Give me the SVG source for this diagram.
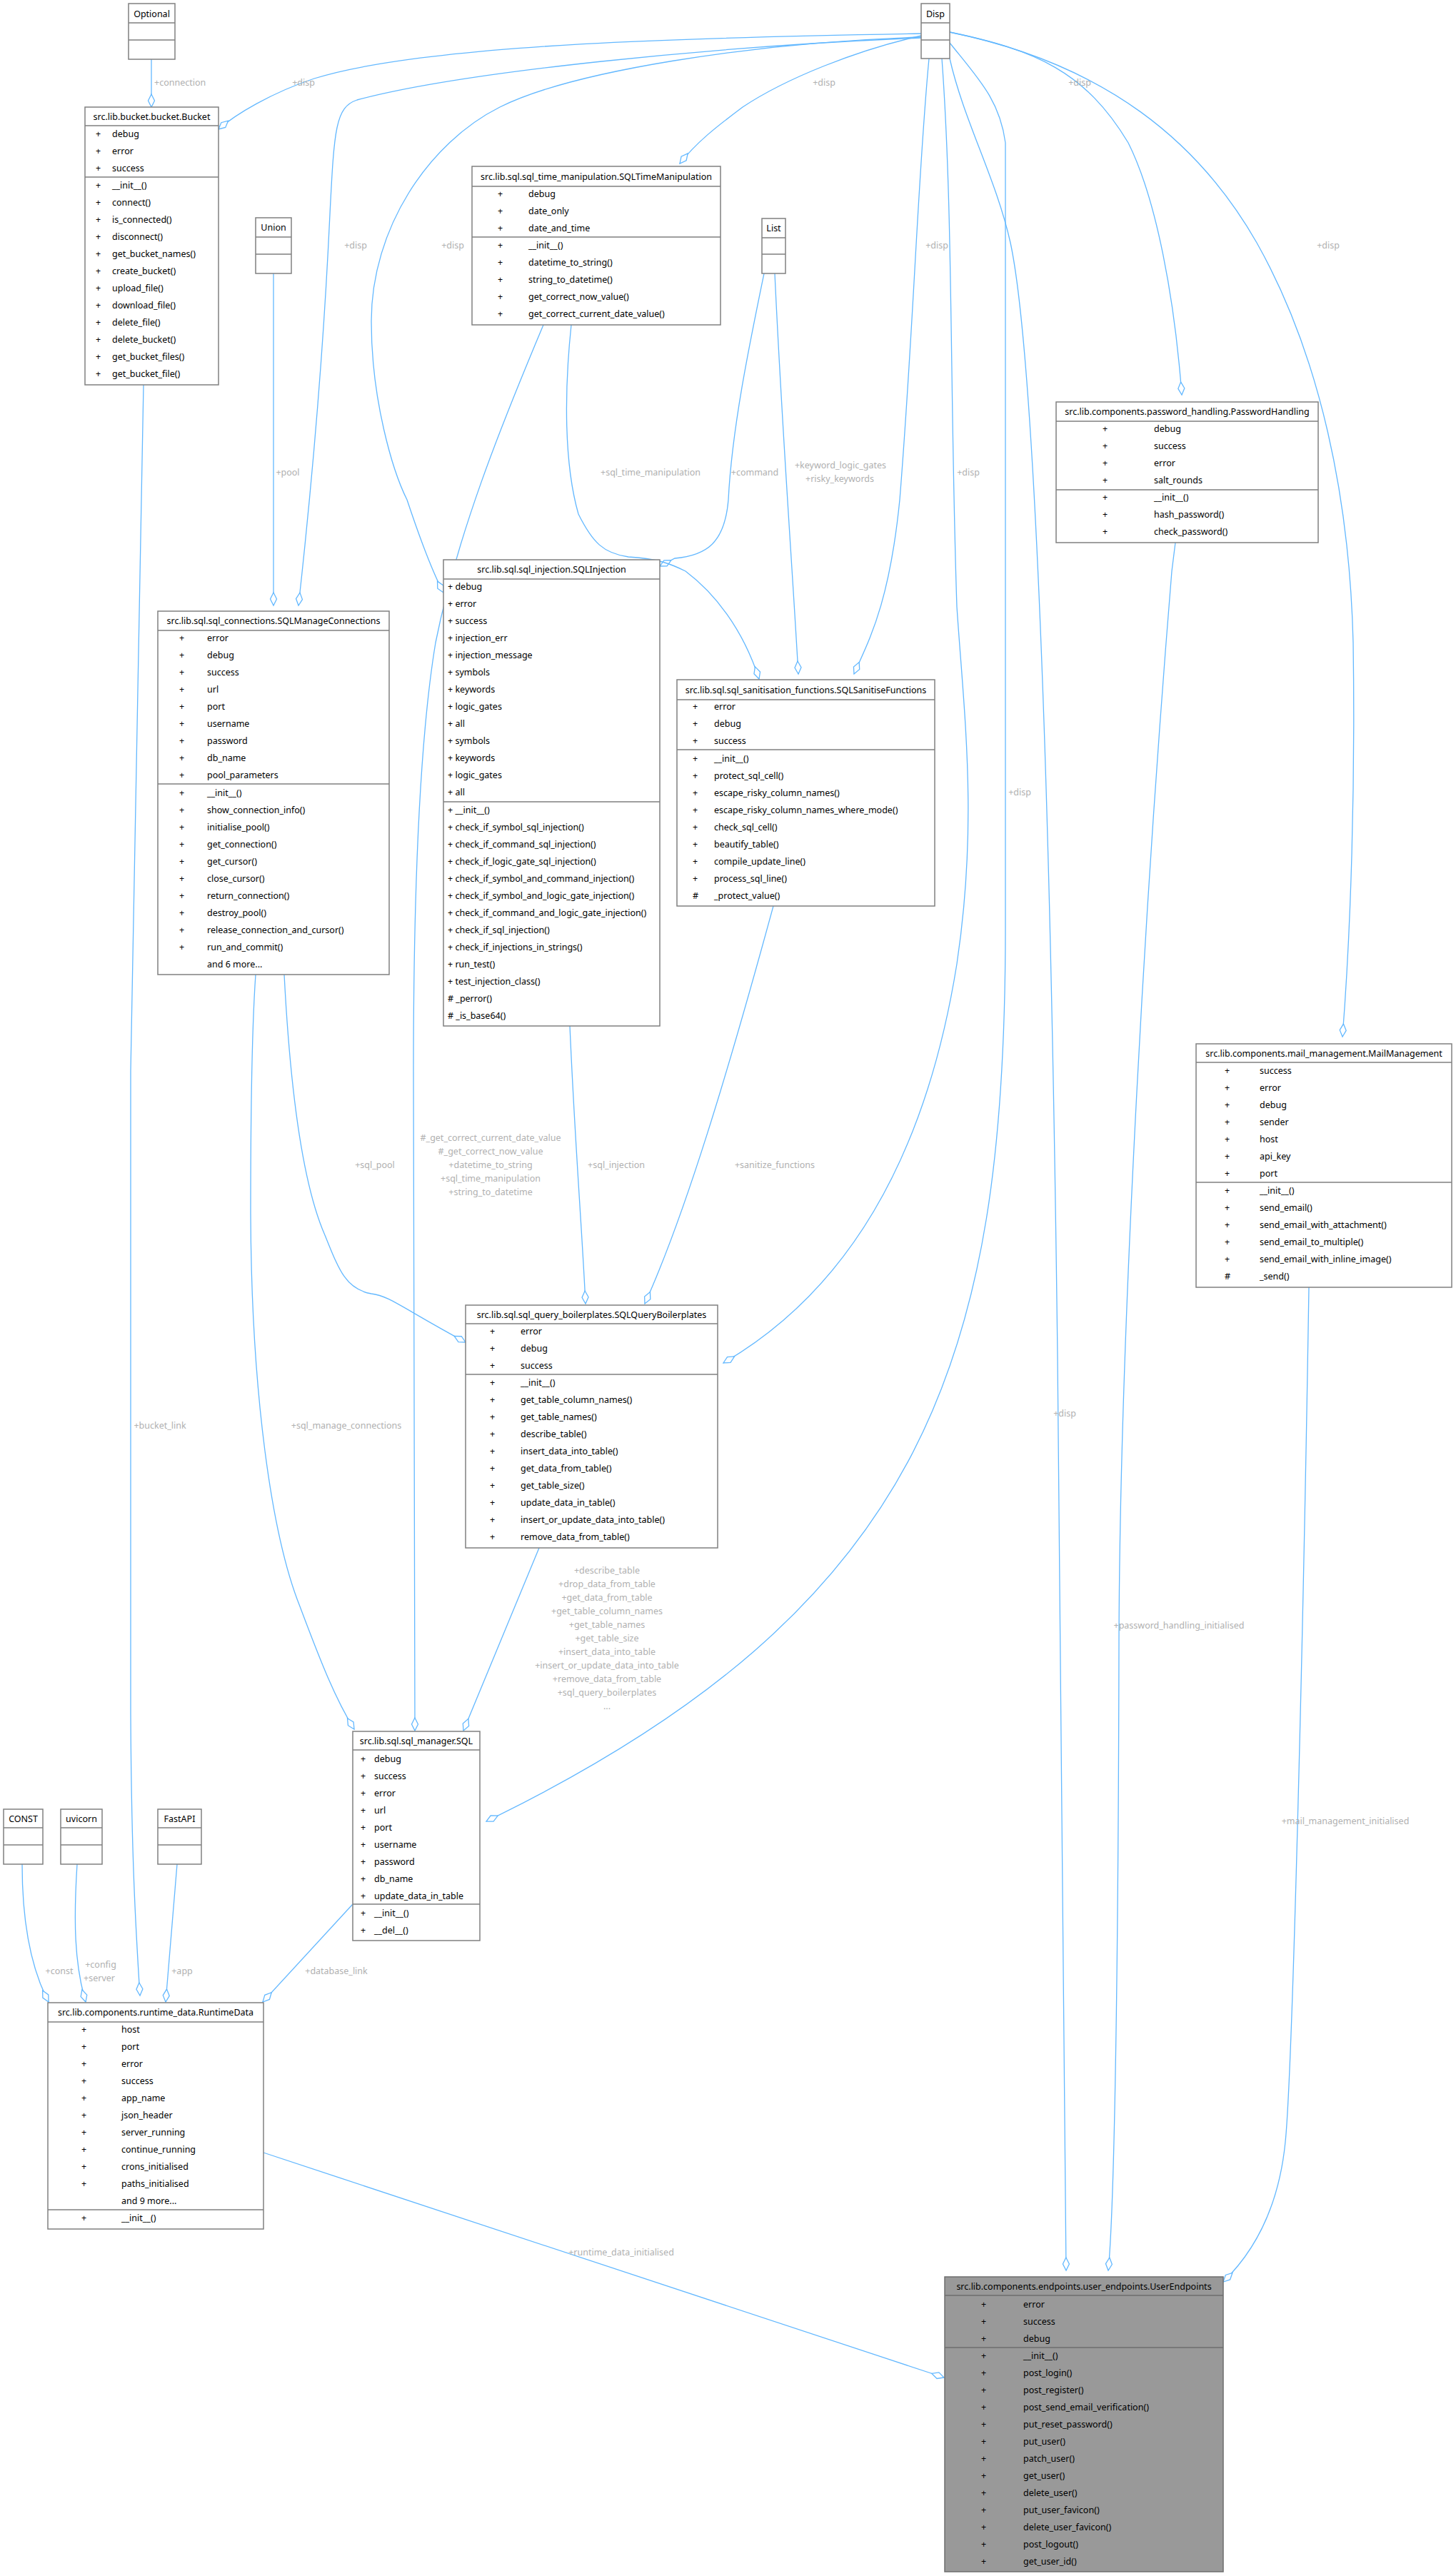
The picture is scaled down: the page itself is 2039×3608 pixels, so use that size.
<svg xmlns="http://www.w3.org/2000/svg" width="2039" height="3608" viewBox="0 0 2039 3608">
<style>
text{font-family:"Noto Sans","DejaVu Sans",sans-serif;font-size:12.5px;fill:#000;dominant-baseline:central}
.c{text-anchor:middle}
.l{fill:#b0b0b0;text-anchor:middle}
.box{fill:#fff;stroke:#808080;stroke-width:1.5}
.ue{fill:#999;stroke:#6e6e6e;stroke-width:1.5}
.dv{stroke:#808080;stroke-width:1.5}
.e{fill:none;stroke:#63b8ff;stroke-width:1.3;marker-end:url(#dia)}
</style>
<defs>
<marker id="dia" markerUnits="userSpaceOnUse" markerWidth="20" markerHeight="12" refX="18.5" refY="5.5" orient="auto" overflow="visible">
<path d="M0.5,5.5 L9.5,1 L18.5,5.5 L9.5,10 Z" fill="#fff" stroke="#63b8ff" stroke-width="1.3"/>
</marker>
</defs>
<rect width="2039" height="3608" fill="#fff"/>
<g id="connectors">
<path class="e" d="M212,83 L212,150"/>
<path class="e" d="M1290,47 C1000,52 600,60 440,110 C380,130 330,160 306,181"/>
<path class="e" d="M1290,53 C1000,65 650,100 500,140 C470,150 468,180 462,300 C455,450 440,650 418,848"/>
<path class="e" d="M1290,52 C1050,60 800,100 700,150 C600,200 520,320 520,450 C520,560 550,660 570,700 C590,760 605,800 621,830"/>
<path class="e" d="M1290,50 C1200,70 1100,110 1040,150 C1000,180 975,200 952,229"/>
<path class="e" d="M1070,383 C1050,480 1025,600 1020,700 C1015,760 990,778 945,782 L924,793"/>
<path class="e" d="M1085,383 C1095,600 1110,800 1118,944"/>
<path class="e" d="M1301,82 C1285,250 1280,450 1260,700 C1245,850 1215,900 1196,944"/>
<path class="e" d="M1319,82 C1335,300 1330,550 1340,850 C1350,1000 1370,1150 1340,1350 C1300,1600 1200,1800 1013,1909"/>
<path class="e" d="M1330,60 C1370,110 1400,140 1408,200 L1408,1300 C1408,1900 1300,2250 681,2551"/>
<path class="e" d="M1330,82 C1350,170 1395,250 1415,340 C1445,480 1470,1000 1481,1900 L1493,3180"/>
<path class="e" d="M1646,760 L1641,800 C1600,1300 1568,1900 1567,2300 C1566,2800 1560,3100 1552,3180"/>
<path class="e" d="M1330,45 C1450,70 1520,100 1580,200 C1620,280 1645,420 1655,553"/>
<path class="e" d="M1330,45 C1550,90 1680,200 1760,340 C1850,500 1890,700 1895,900 C1898,1100 1892,1300 1880,1452"/>
<path class="e" d="M1833,1803 C1825,2300 1810,2900 1800,3000 C1790,3100 1750,3160 1713,3196"/>
<path class="e" d="M383,383 L383,848"/>
<path class="e" d="M201,539 L183,1500 L183,2400 C184,2600 190,2700 196,2795"/>
<path class="e" d="M398,1365 C405,1500 420,1650 455,1730 C475,1780 485,1806 520,1812 C545,1815 560,1830 652,1880"/>
<path class="e" d="M358,1365 C352,1450 351,1600 351,1700 C352,1950 380,2150 420,2250 C450,2330 470,2380 496,2422"/>
<path class="e" d="M798,1437 C805,1600 815,1720 820,1826"/>
<path class="e" d="M1083,1269 C1020,1500 960,1700 903,1826"/>
<path class="e" d="M755,2168 L649,2424"/>
<path class="e" d="M31,2611 C31,2700 45,2760 68,2804"/>
<path class="e" d="M108,2611 C103,2690 104,2750 120,2804"/>
<path class="e" d="M248,2611 L232,2804"/>
<path class="e" d="M494,2667 L368,2804"/>
<path class="e" d="M369,3015 L1322,3330"/>
<path class="e" d="M761,455 C700,600 640,750 610,900 C585,1050 579,1300 579,1500 L581,2424"/>
<path class="e" d="M800,455 C790,550 790,650 810,720 C830,760 845,775 880,780 C920,782 940,790 960,800 C1000,830 1040,880 1063,951"/>
<text class="l" x="216" y="115" style="text-anchor:start">+connection</text>
<text class="l" x="425" y="115">+disp</text>
<text class="l" x="498" y="343">+disp</text>
<text class="l" x="634" y="343">+disp</text>
<text class="l" x="1154" y="115">+disp</text>
<text class="l" x="403" y="661">+pool</text>
<text class="l" x="911" y="661">+sql_time_manipulation</text>
<text class="l" x="1057" y="661">+command</text>
<text class="l" x="1177" y="651">+keyword_logic_gates</text>
<text class="l" x="1176" y="670">+risky_keywords</text>
<text class="l" x="1312" y="343">+disp</text>
<text class="l" x="1356" y="661">+disp</text>
<text class="l" x="1512" y="115">+disp</text>
<text class="l" x="1860" y="343">+disp</text>
<text class="l" x="1428" y="1109">+disp</text>
<text class="l" x="1491" y="1979">+disp</text>
<text class="l" x="1651" y="2276">+password_handling_initialised</text>
<text class="l" x="1884" y="2550">+mail_management_initialised</text>
<text class="l" x="525" y="1631">+sql_pool</text>
<text class="l" x="863" y="1631">+sql_injection</text>
<text class="l" x="1085" y="1631">+sanitize_functions</text>
<text class="l" x="687" y="1593">#_get_correct_current_date_value</text>
<text class="l" x="687" y="1612">#_get_correct_now_value</text>
<text class="l" x="687" y="1631">+datetime_to_string</text>
<text class="l" x="687" y="1650">+sql_time_manipulation</text>
<text class="l" x="687" y="1669">+string_to_datetime</text>
<text class="l" x="224" y="1996">+bucket_link</text>
<text class="l" x="485" y="1996">+sql_manage_connections</text>
<text class="l" x="850" y="2199">+describe_table</text>
<text class="l" x="850" y="2218">+drop_data_from_table</text>
<text class="l" x="850" y="2237">+get_data_from_table</text>
<text class="l" x="850" y="2256">+get_table_column_names</text>
<text class="l" x="850" y="2275">+get_table_names</text>
<text class="l" x="850" y="2294">+get_table_size</text>
<text class="l" x="850" y="2313">+insert_data_into_table</text>
<text class="l" x="850" y="2332">+insert_or_update_data_into_table</text>
<text class="l" x="850" y="2351">+remove_data_from_table</text>
<text class="l" x="850" y="2370">+sql_query_boilerplates</text>
<text class="l" x="850" y="2389">...</text>
<text class="l" x="83" y="2760">+const</text>
<text class="l" x="141" y="2751">+config</text>
<text class="l" x="139" y="2770">+server</text>
<text class="l" x="255" y="2760">+app</text>
<text class="l" x="471" y="2760">+database_link</text>
<text class="l" x="870" y="3154">+runtime_data_initialised</text>
</g>
<g id="Optional"><rect class="box" x="180" y="5" width="65" height="78"/><path class="dv" d="M180,32H245M180,56H245"/><text class="c" x="212.5" y="19">Optional</text></g>
<g id="Disp"><rect class="box" x="1290" y="5" width="40" height="77"/><path class="dv" d="M1290,32H1330M1290,56H1330"/><text class="c" x="1310" y="19">Disp</text></g>
<g id="Union"><rect class="box" x="358" y="305" width="50" height="78"/><path class="dv" d="M358,332H408M358,356H408"/><text class="c" x="383" y="318">Union</text></g>
<g id="List"><rect class="box" x="1067" y="306" width="33" height="77"/><path class="dv" d="M1067,333H1100M1067,356H1100"/><text class="c" x="1083.5" y="319">List</text></g>
<g id="CONST"><rect class="box" x="5" y="2534" width="55" height="77"/><path class="dv" d="M5,2560H60M5,2584H60"/><text class="c" x="32.5" y="2547">CONST</text></g>
<g id="uvicorn"><rect class="box" x="85" y="2534" width="58" height="77"/><path class="dv" d="M85,2560H143M85,2584H143"/><text class="c" x="114" y="2547">uvicorn</text></g>
<g id="FastAPI"><rect class="box" x="221" y="2534" width="61" height="77"/><path class="dv" d="M221,2560H282M221,2584H282"/><text class="c" x="251.5" y="2547">FastAPI</text></g>
<g id="Bucket"><rect class="box" x="119" y="150" width="187" height="389"/><path class="dv" d="M119,176H306M119,248H306"/>
<text class="c" x="212.5" y="163">src.lib.bucket.bucket.Bucket</text>
<text x="134" y="187">+</text><text x="157" y="187">debug</text>
<text x="134" y="211">+</text><text x="157" y="211">error</text>
<text x="134" y="235">+</text><text x="157" y="235">success</text>
<text x="134" y="259">+</text><text x="157" y="259">__init__()</text>
<text x="134" y="283">+</text><text x="157" y="283">connect()</text>
<text x="134" y="307">+</text><text x="157" y="307">is_connected()</text>
<text x="134" y="331">+</text><text x="157" y="331">disconnect()</text>
<text x="134" y="355">+</text><text x="157" y="355">get_bucket_names()</text>
<text x="134" y="379">+</text><text x="157" y="379">create_bucket()</text>
<text x="134" y="403">+</text><text x="157" y="403">upload_file()</text>
<text x="134" y="427">+</text><text x="157" y="427">download_file()</text>
<text x="134" y="451">+</text><text x="157" y="451">delete_file()</text>
<text x="134" y="475">+</text><text x="157" y="475">delete_bucket()</text>
<text x="134" y="499">+</text><text x="157" y="499">get_bucket_files()</text>
<text x="134" y="523">+</text><text x="157" y="523">get_bucket_file()</text>
</g>
<g id="SQLTimeManipulation"><rect class="box" x="661" y="233" width="348" height="222"/><path class="dv" d="M661,261H1009M661,332H1009"/>
<text class="c" x="835" y="247">src.lib.sql.sql_time_manipulation.SQLTimeManipulation</text>
<text x="697" y="271">+</text><text x="740" y="271">debug</text>
<text x="697" y="295">+</text><text x="740" y="295">date_only</text>
<text x="697" y="319">+</text><text x="740" y="319">date_and_time</text>
<text x="697" y="343">+</text><text x="740" y="343">__init__()</text>
<text x="697" y="367">+</text><text x="740" y="367">datetime_to_string()</text>
<text x="697" y="391">+</text><text x="740" y="391">string_to_datetime()</text>
<text x="697" y="415">+</text><text x="740" y="415">get_correct_now_value()</text>
<text x="697" y="439">+</text><text x="740" y="439">get_correct_current_date_value()</text>
</g>
<g id="PasswordHandling"><rect class="box" x="1479" y="563" width="367" height="197"/><path class="dv" d="M1479,590H1846M1479,686H1846"/>
<text class="c" x="1662.5" y="576.5">src.lib.components.password_handling.PasswordHandling</text>
<text x="1544" y="600">+</text><text x="1616" y="600">debug</text>
<text x="1544" y="624">+</text><text x="1616" y="624">success</text>
<text x="1544" y="648">+</text><text x="1616" y="648">error</text>
<text x="1544" y="672">+</text><text x="1616" y="672">salt_rounds</text>
<text x="1544" y="696">+</text><text x="1616" y="696">__init__()</text>
<text x="1544" y="720">+</text><text x="1616" y="720">hash_password()</text>
<text x="1544" y="744">+</text><text x="1616" y="744">check_password()</text>
</g>
<g id="SQLInjection"><rect class="box" x="621" y="784" width="303" height="653"/><path class="dv" d="M621,811H924M621,1123H924"/>
<text class="c" x="772.5" y="797.5">src.lib.sql.sql_injection.SQLInjection</text>
<text x="627" y="821">+ debug</text><text x="627" y="845">+ error</text><text x="627" y="869">+ success</text><text x="627" y="893">+ injection_err</text><text x="627" y="917">+ injection_message</text><text x="627" y="941">+ symbols</text><text x="627" y="965">+ keywords</text><text x="627" y="989">+ logic_gates</text><text x="627" y="1013">+ all</text><text x="627" y="1037">+ symbols</text><text x="627" y="1061">+ keywords</text><text x="627" y="1085">+ logic_gates</text><text x="627" y="1109">+ all</text>
<text x="627" y="1134">+ __init__()</text><text x="627" y="1158">+ check_if_symbol_sql_injection()</text><text x="627" y="1182">+ check_if_command_sql_injection()</text><text x="627" y="1206">+ check_if_logic_gate_sql_injection()</text><text x="627" y="1230">+ check_if_symbol_and_command_injection()</text><text x="627" y="1254">+ check_if_symbol_and_logic_gate_injection()</text><text x="627" y="1278">+ check_if_command_and_logic_gate_injection()</text><text x="627" y="1302">+ check_if_sql_injection()</text><text x="627" y="1326">+ check_if_injections_in_strings()</text><text x="627" y="1350">+ run_test()</text><text x="627" y="1374">+ test_injection_class()</text><text x="627" y="1398"># _perror()</text><text x="627" y="1422"># _is_base64()</text>
</g>
<g id="SQLManageConnections"><rect class="box" x="221" y="856" width="324" height="509"/><path class="dv" d="M221,883H545M221,1098H545"/>
<text class="c" x="383" y="869.5">src.lib.sql.sql_connections.SQLManageConnections</text>
<text x="251" y="893">+</text><text x="290" y="893">error</text>
<text x="251" y="917">+</text><text x="290" y="917">debug</text>
<text x="251" y="941">+</text><text x="290" y="941">success</text>
<text x="251" y="965">+</text><text x="290" y="965">url</text>
<text x="251" y="989">+</text><text x="290" y="989">port</text>
<text x="251" y="1013">+</text><text x="290" y="1013">username</text>
<text x="251" y="1037">+</text><text x="290" y="1037">password</text>
<text x="251" y="1061">+</text><text x="290" y="1061">db_name</text>
<text x="251" y="1085">+</text><text x="290" y="1085">pool_parameters</text>
<text x="251" y="1110">+</text><text x="290" y="1110">__init__()</text>
<text x="251" y="1134">+</text><text x="290" y="1134">show_connection_info()</text>
<text x="251" y="1158">+</text><text x="290" y="1158">initialise_pool()</text>
<text x="251" y="1182">+</text><text x="290" y="1182">get_connection()</text>
<text x="251" y="1206">+</text><text x="290" y="1206">get_cursor()</text>
<text x="251" y="1230">+</text><text x="290" y="1230">close_cursor()</text>
<text x="251" y="1254">+</text><text x="290" y="1254">return_connection()</text>
<text x="251" y="1278">+</text><text x="290" y="1278">destroy_pool()</text>
<text x="251" y="1302">+</text><text x="290" y="1302">release_connection_and_cursor()</text>
<text x="251" y="1326">+</text><text x="290" y="1326">run_and_commit()</text>
<text x="290" y="1350">and 6 more...</text>
</g>
<g id="SQLSanitiseFunctions"><rect class="box" x="948" y="952" width="361" height="317"/><path class="dv" d="M948,980H1309M948,1050H1309"/>
<text class="c" x="1128.5" y="966">src.lib.sql.sql_sanitisation_functions.SQLSanitiseFunctions</text>
<text x="970" y="989">+</text><text x="1000" y="989">error</text>
<text x="970" y="1013">+</text><text x="1000" y="1013">debug</text>
<text x="970" y="1037">+</text><text x="1000" y="1037">success</text>
<text x="970" y="1062">+</text><text x="1000" y="1062">__init__()</text>
<text x="970" y="1086">+</text><text x="1000" y="1086">protect_sql_cell()</text>
<text x="970" y="1110">+</text><text x="1000" y="1110">escape_risky_column_names()</text>
<text x="970" y="1134">+</text><text x="1000" y="1134">escape_risky_column_names_where_mode()</text>
<text x="970" y="1158">+</text><text x="1000" y="1158">check_sql_cell()</text>
<text x="970" y="1182">+</text><text x="1000" y="1182">beautify_table()</text>
<text x="970" y="1206">+</text><text x="1000" y="1206">compile_update_line()</text>
<text x="970" y="1230">+</text><text x="1000" y="1230">process_sql_line()</text>
<text x="970" y="1254">#</text><text x="1000" y="1254">_protect_value()</text>
</g>
<g id="MailManagement"><rect class="box" x="1675" y="1462" width="358" height="341"/><path class="dv" d="M1675,1488H2033M1675,1656H2033"/>
<text class="c" x="1854" y="1475">src.lib.components.mail_management.MailManagement</text>
<text x="1715" y="1499">+</text><text x="1764" y="1499">success</text>
<text x="1715" y="1523">+</text><text x="1764" y="1523">error</text>
<text x="1715" y="1547">+</text><text x="1764" y="1547">debug</text>
<text x="1715" y="1571">+</text><text x="1764" y="1571">sender</text>
<text x="1715" y="1595">+</text><text x="1764" y="1595">host</text>
<text x="1715" y="1619">+</text><text x="1764" y="1619">api_key</text>
<text x="1715" y="1643">+</text><text x="1764" y="1643">port</text>
<text x="1715" y="1667">+</text><text x="1764" y="1667">__init__()</text>
<text x="1715" y="1691">+</text><text x="1764" y="1691">send_email()</text>
<text x="1715" y="1715">+</text><text x="1764" y="1715">send_email_with_attachment()</text>
<text x="1715" y="1739">+</text><text x="1764" y="1739">send_email_to_multiple()</text>
<text x="1715" y="1763">+</text><text x="1764" y="1763">send_email_with_inline_image()</text>
<text x="1715" y="1787">#</text><text x="1764" y="1787">_send()</text>
</g>
<g id="SQLQueryBoilerplates"><rect class="box" x="652" y="1828" width="353" height="340"/><path class="dv" d="M652,1854H1005M652,1925H1005"/>
<text class="c" x="828.5" y="1841">src.lib.sql.sql_query_boilerplates.SQLQueryBoilerplates</text>
<text x="686" y="1864">+</text><text x="729" y="1864">error</text>
<text x="686" y="1888">+</text><text x="729" y="1888">debug</text>
<text x="686" y="1912">+</text><text x="729" y="1912">success</text>
<text x="686" y="1936">+</text><text x="729" y="1936">__init__()</text>
<text x="686" y="1960">+</text><text x="729" y="1960">get_table_column_names()</text>
<text x="686" y="1984">+</text><text x="729" y="1984">get_table_names()</text>
<text x="686" y="2008">+</text><text x="729" y="2008">describe_table()</text>
<text x="686" y="2032">+</text><text x="729" y="2032">insert_data_into_table()</text>
<text x="686" y="2056">+</text><text x="729" y="2056">get_data_from_table()</text>
<text x="686" y="2080">+</text><text x="729" y="2080">get_table_size()</text>
<text x="686" y="2104">+</text><text x="729" y="2104">update_data_in_table()</text>
<text x="686" y="2128">+</text><text x="729" y="2128">insert_or_update_data_into_table()</text>
<text x="686" y="2152">+</text><text x="729" y="2152">remove_data_from_table()</text>
</g>
<g id="SQL"><rect class="box" x="494" y="2425" width="178" height="293"/><path class="dv" d="M494,2451H672M494,2667H672"/>
<text class="c" x="583" y="2438">src.lib.sql.sql_manager.SQL</text>
<text x="505" y="2463">+</text><text x="524" y="2463">debug</text>
<text x="505" y="2487">+</text><text x="524" y="2487">success</text>
<text x="505" y="2511">+</text><text x="524" y="2511">error</text>
<text x="505" y="2535">+</text><text x="524" y="2535">url</text>
<text x="505" y="2559">+</text><text x="524" y="2559">port</text>
<text x="505" y="2583">+</text><text x="524" y="2583">username</text>
<text x="505" y="2607">+</text><text x="524" y="2607">password</text>
<text x="505" y="2631">+</text><text x="524" y="2631">db_name</text>
<text x="505" y="2655">+</text><text x="524" y="2655">update_data_in_table</text>
<text x="505" y="2679">+</text><text x="524" y="2679">__init__()</text>
<text x="505" y="2703">+</text><text x="524" y="2703">__del__()</text>
</g>
<g id="RuntimeData"><rect class="box" x="67" y="2805" width="302" height="317"/><path class="dv" d="M67,2832H369M67,3095H369"/>
<text class="c" x="218" y="2818.5">src.lib.components.runtime_data.RuntimeData</text>
<text x="114" y="2842">+</text><text x="170" y="2842">host</text>
<text x="114" y="2866">+</text><text x="170" y="2866">port</text>
<text x="114" y="2890">+</text><text x="170" y="2890">error</text>
<text x="114" y="2914">+</text><text x="170" y="2914">success</text>
<text x="114" y="2938">+</text><text x="170" y="2938">app_name</text>
<text x="114" y="2962">+</text><text x="170" y="2962">json_header</text>
<text x="114" y="2986">+</text><text x="170" y="2986">server_running</text>
<text x="114" y="3010">+</text><text x="170" y="3010">continue_running</text>
<text x="114" y="3034">+</text><text x="170" y="3034">crons_initialised</text>
<text x="114" y="3058">+</text><text x="170" y="3058">paths_initialised</text>
<text x="170" y="3082">and 9 more...</text>
<text x="114" y="3106">+</text><text x="170" y="3106">__init__()</text>
</g>
<g id="UserEndpoints"><rect class="ue" x="1323" y="3189" width="390" height="413"/><path class="dv" d="M1323,3215H1713M1323,3288H1713" style="stroke:#6e6e6e"/>
<text class="c" x="1518" y="3202">src.lib.components.endpoints.user_endpoints.UserEndpoints</text>
<text x="1374" y="3227">+</text><text x="1433" y="3227">error</text>
<text x="1374" y="3251">+</text><text x="1433" y="3251">success</text>
<text x="1374" y="3275">+</text><text x="1433" y="3275">debug</text>
<text x="1374" y="3299">+</text><text x="1433" y="3299">__init__()</text>
<text x="1374" y="3323">+</text><text x="1433" y="3323">post_login()</text>
<text x="1374" y="3347">+</text><text x="1433" y="3347">post_register()</text>
<text x="1374" y="3371">+</text><text x="1433" y="3371">post_send_email_verification()</text>
<text x="1374" y="3395">+</text><text x="1433" y="3395">put_reset_password()</text>
<text x="1374" y="3419">+</text><text x="1433" y="3419">put_user()</text>
<text x="1374" y="3443">+</text><text x="1433" y="3443">patch_user()</text>
<text x="1374" y="3467">+</text><text x="1433" y="3467">get_user()</text>
<text x="1374" y="3491">+</text><text x="1433" y="3491">delete_user()</text>
<text x="1374" y="3515">+</text><text x="1433" y="3515">put_user_favicon()</text>
<text x="1374" y="3539">+</text><text x="1433" y="3539">delete_user_favicon()</text>
<text x="1374" y="3563">+</text><text x="1433" y="3563">post_logout()</text>
<text x="1374" y="3587">+</text><text x="1433" y="3587">get_user_id()</text>
</g>
</svg>
